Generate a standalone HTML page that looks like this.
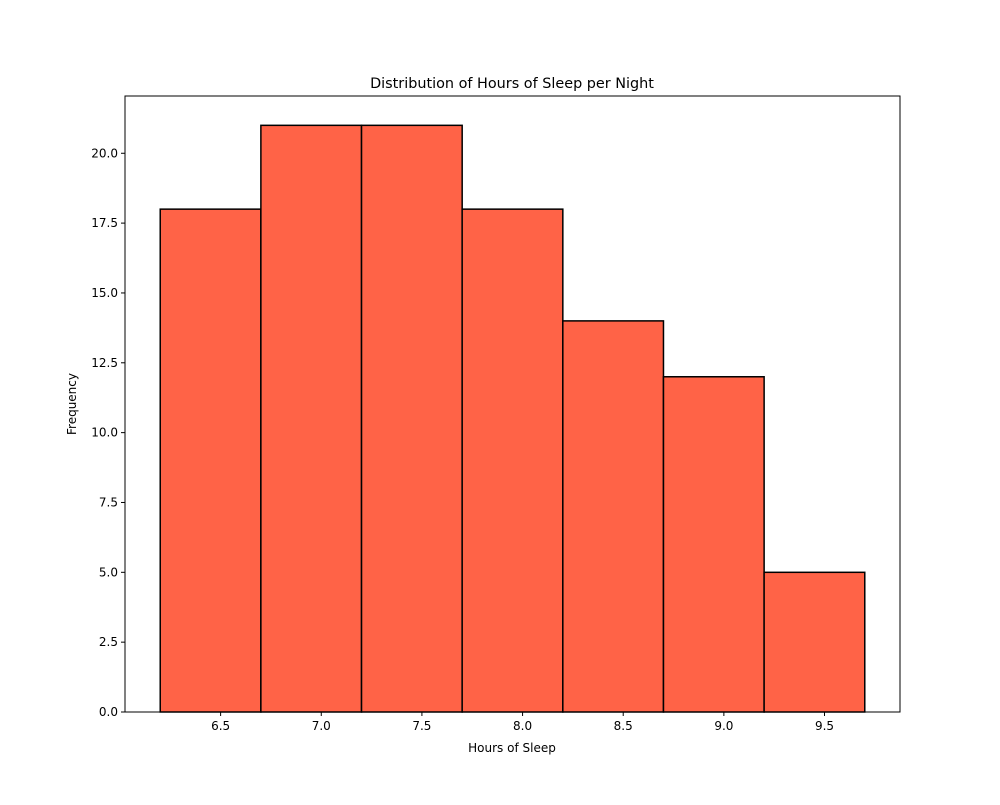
<!DOCTYPE html>
<html><head><meta charset="utf-8"><style>
body{margin:0;background:#fff;}
svg text{font-family:"DejaVu Sans","Liberation Sans",sans-serif;fill:#000;}
</style></head><body>
<svg id="chart" width="1000" height="800">
<rect width="1000" height="800" fill="#fff"/>
<g id="bars"></g>
<g id="axes"></g>
<text x="512" y="88" font-size="14.4" text-anchor="middle">Distribution of Hours of Sleep per Night</text>
<text x="512" y="752" font-size="12" text-anchor="middle">Hours of Sleep</text>
<text x="76" y="404" font-size="12" text-anchor="middle" transform="rotate(-90 76 404)">Frequency</text>
</svg>
<script>
const binEdges = [6.2, 6.7, 7.2, 7.7, 8.2, 8.7, 9.2, 9.7];
const counts = [18, 21, 21, 18, 14, 12, 5];
const xTicks = [6.5, 7.0, 7.5, 8.0, 8.5, 9.0, 9.5];
const yTicks = [0, 2.5, 5, 7.5, 10, 12.5, 15, 17.5, 20];

const L=125,R=900,T=96,B=712;
const xmin=binEdges[0], xmax=binEdges[binEdges.length-1];
const pad=(xmax-xmin)*0.05;
const x0=xmin-pad, x1=xmax+pad;
const ymax=Math.max(...counts)*1.05;
const sx=v=>L+(v-x0)/(x1-x0)*(R-L);
const sy=v=>B-v/ymax*(B-T);
const NS="http://www.w3.org/2000/svg";
const bars=document.getElementById('bars'), axes=document.getElementById('axes');
function mk(tag,attrs,parent){const e=document.createElementNS(NS,tag);for(const k in attrs)e.setAttribute(k,attrs[k]);parent.appendChild(e);return e;}
counts.forEach((c,i)=>{
  const r=mk('rect',{x:sx(binEdges[i]),y:sy(c),width:sx(binEdges[i+1])-sx(binEdges[i]),height:sy(0)-sy(c),fill:'#ff6347',stroke:'#000','stroke-width':1.5},bars);
  
  
});
const frame=mk('rect',{x:L,y:T,width:R-L,height:B-T,fill:'none',stroke:'#000','stroke-width':1},axes);


xTicks.forEach(t=>{
  const x=sx(t);
  mk('line',{x1:x,x2:x,y1:B,y2:B+4,stroke:'#000'},axes);
  const tx=mk('text',{x:x,y:B+18,'font-size':12,'text-anchor':'middle'},axes);
  tx.textContent=t.toFixed(1);
  
  
});
yTicks.forEach(t=>{
  const y=sy(t);
  mk('line',{x1:L-4,x2:L,y1:y,y2:y,stroke:'#000'},axes);
  const tx=mk('text',{x:L-7,y:y+4,'font-size':12,'text-anchor':'end'},axes);
  tx.textContent=t.toFixed(1);
  
  
});
</script>
</body></html>
